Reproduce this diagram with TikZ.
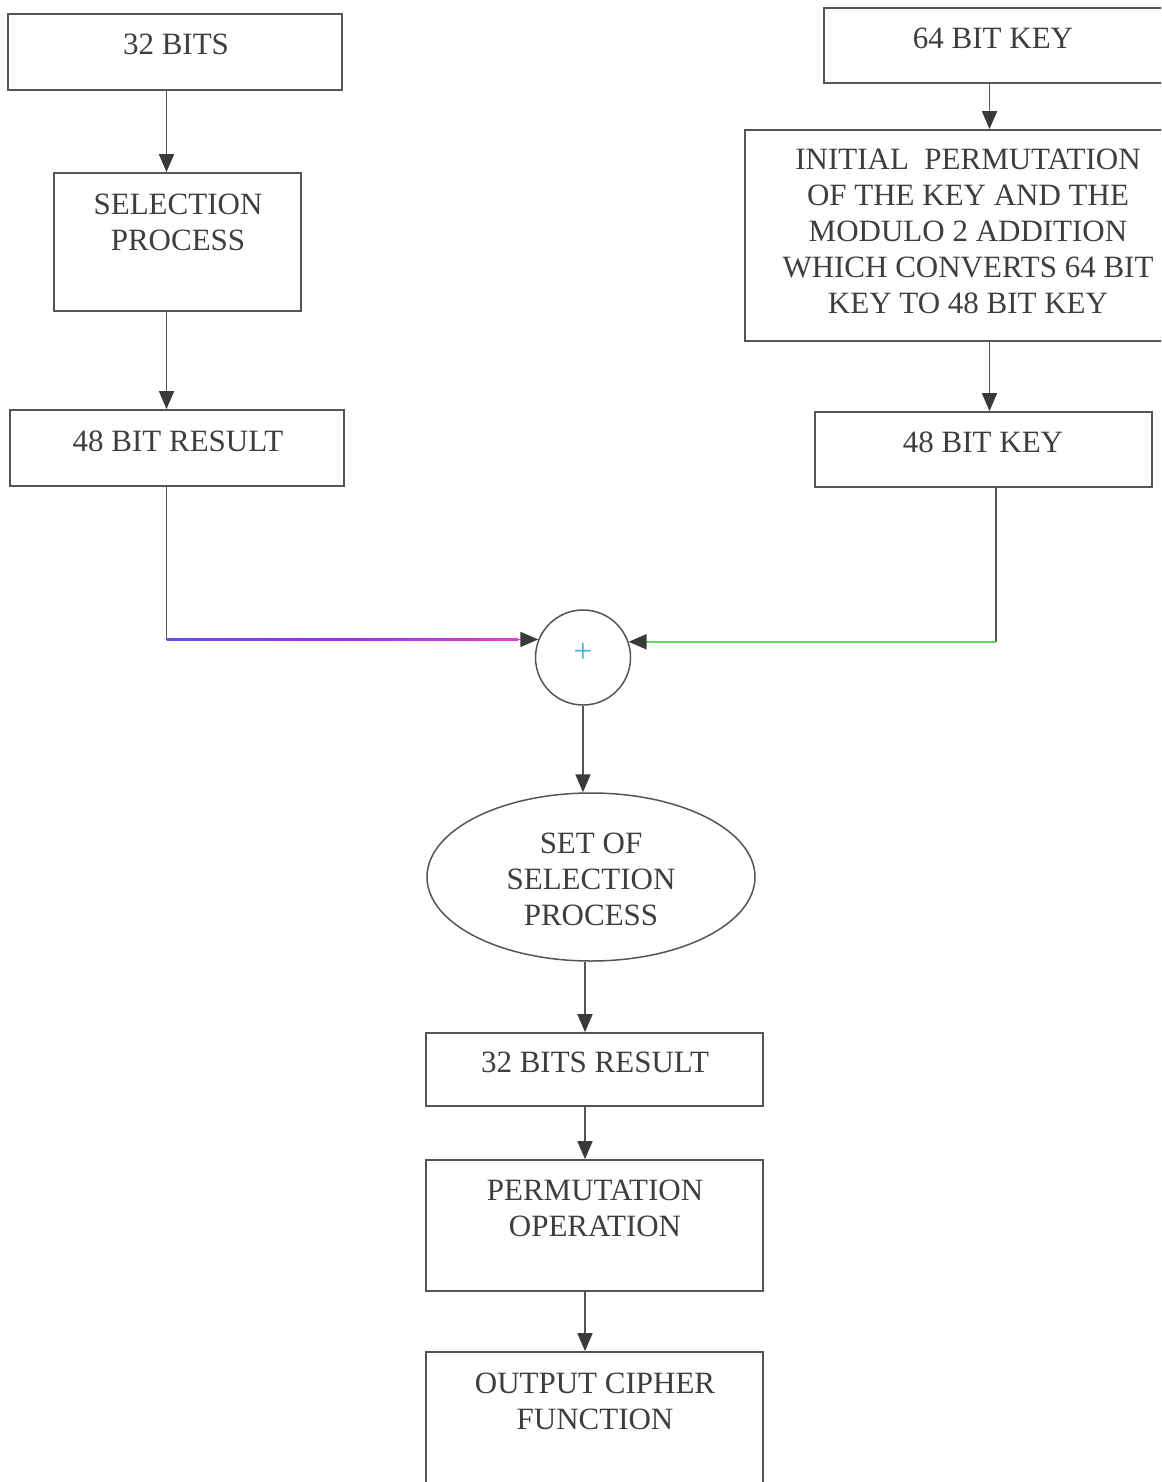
\documentclass[tikz,border=0pt]{standalone}
\usepackage{fontspec}
\setmainfont{Liberation Serif}
\usetikzlibrary{arrows.meta,shapes.geometric}
\definecolor{inkline}{HTML}{555555}
\definecolor{inktext}{HTML}{3E3E3E}
\definecolor{tipgray}{HTML}{3A3A3A}
\definecolor{wireblue}{HTML}{6A50E8}
\definecolor{wirepurple}{HTML}{A030E0}
\definecolor{wiremagenta}{HTML}{E040D8}
\definecolor{wiregreen}{HTML}{5CD65C}
\definecolor{pluscyan}{HTML}{3CB8E0}
\tikzset{
  box/.style={draw=inkline, line width=1.8pt, rectangle, inner sep=0pt},
  oval/.style={draw=inkline, line width=1.5pt, ellipse, inner sep=0pt},
  txt/.style={text=inktext, inner sep=0pt, align=center,
              font=\fontsize{31}{36}\selectfont},
  wire/.style={draw=inkline, line width=1.8pt},
  tip/.style={-{Triangle[width=15pt,length=18pt,color=tipgray]}},
  arr/.style={wire, tip},
}
\begin{document}
\begin{tikzpicture}[x=1pt,y=-1pt]
\useasboundingbox (0,0) rectangle (1161,1482);
\clip (0,0) rectangle (1161,1482);
\fill[white] (0,0) rectangle (1161,1482);

% column guides for the connectors
\coordinate (xl) at (166.5,0);
\coordinate (xr) at (989.5,0);
\coordinate (xd) at (996,0);
\coordinate (xc) at (583,0);
\coordinate (xm) at (585,0);

% left column: data path
\node[box, minimum width=334, minimum height=76] (bits32) at (175,52) {};
\node[txt] (bits32t) at (176,44) {32 BITS};
\node[box, minimum width=247, minimum height=138] (sel) at (177.5,242) {};
\node[txt] (selt) at (178,222) {SELECTION\\PROCESS};
\node[box, minimum width=334, minimum height=76] (res48) at (177,448) {};
\node[txt] (res48t) at (178,441) {48 BIT RESULT};

% right column: key path
\node[box, minimum width=340, minimum height=75] (key64) at (994,45.5) {};
\node[txt] (key64t) at (993,38) {64 BIT KEY};
\node[box, minimum width=420, minimum height=211] (perm) at (955,235.5) {};
\node[txt] (permt) at (968,231.5) {INITIAL\ \ PERMUTATION\\OF THE KEY AND THE\\MODULO 2 ADDITION\\WHICH CONVERTS 64 BIT\\KEY TO 48 BIT KEY};
\node[box, minimum width=337, minimum height=75] (key48) at (983.5,449.5) {};
\node[txt] (key48t) at (983,442) {48 BIT KEY};

% modulo 2 adder
\node[circle, draw=inkline, line width=1.5pt, minimum size=95, inner sep=0pt] (add) at (583,657.5) {};
\node[text=pluscyan, inner sep=0pt, font=\fontsize{34}{34}\selectfont] (plus) at (583,653) {+};

% centre column
\node[oval, minimum width=328, minimum height=168] (sset) at (591,877) {};
\node[txt] (ssett) at (591,879) {SET OF\\SELECTION\\PROCESS};
\node[box, minimum width=337, minimum height=73] (res32) at (594.5,1069.5) {};
\node[txt] (res32t) at (595,1062) {32 BITS RESULT};
\node[box, minimum width=337, minimum height=131] (permop) at (594.5,1225.5) {};
\node[txt] (permopt) at (595,1208) {PERMUTATION\\OPERATION};
\node[box, minimum width=337, minimum height=140] (out) at (594.5,1422) {};
\node[txt] (outt) at (595,1401) {OUTPUT CIPHER\\FUNCTION};

% connectors, left column
\draw[arr] (bits32.south -| xl) -- (sel.north -| xl);
\draw[arr] (sel.south -| xl) -- (res48.north -| xl);
\coordinate (jl) at (add.158 -| xl);
\draw[wire] (res48.south -| xl) -- (jl);
\draw[wire, draw=wiremagenta, tip] (jl) -- (add.158);
% blue-to-magenta tint along the left feed into the adder
\shade[left color=wireblue, right color=wiremagenta, middle color=wirepurple]
  ([yshift=1pt]jl) rectangle ([xshift=-20pt,yshift=-1pt]add.158);

% connectors, right column
\draw[arr] (key64.south -| xr) -- (perm.north -| xr);
\draw[arr] (perm.south -| xr) -- (key48.north -| xr);
\coordinate (jr) at (add.19 -| xd);
\draw[wire] (key48.south -| xd) -- (jr);
\draw[wire, draw=wiregreen, line width=2.2pt, tip] (jr) -- (add.19);

% connectors, centre column
\draw[arr] (add.south) -- (sset.north -| xc);
\draw[arr] (sset.south -| xm) -- (res32.north -| xm);
\draw[arr] (res32.south -| xm) -- (permop.north -| xm);
\draw[arr] (permop.south -| xm) -- (out.north -| xm);
\end{tikzpicture}
\end{document}
